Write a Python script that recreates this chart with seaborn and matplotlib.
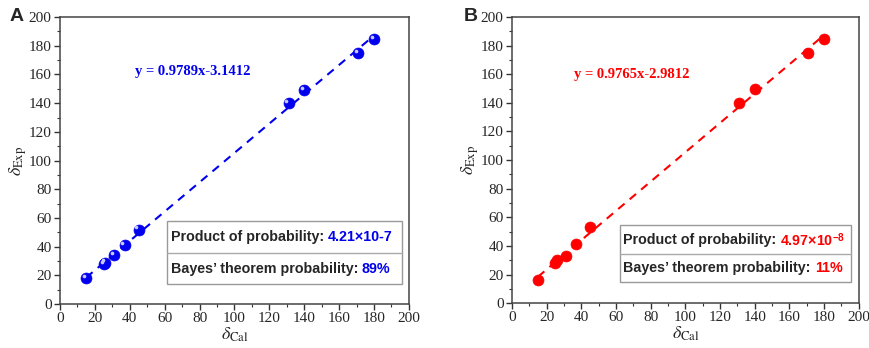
import matplotlib
matplotlib.use('Agg')
import matplotlib.pyplot as plt
import matplotlib.transforms as mtransforms
from matplotlib.patches import Rectangle
import numpy as np
import pandas as pd
import seaborn as sns

# Data
cal_a = [15, 25, 26, 31, 37, 45, 131, 140, 171, 180]
exp_a = [18, 28, 29, 34, 41, 52, 140, 149, 175, 185]
cal_b = [15, 25, 26, 31, 37, 45, 131, 140, 171, 180]
exp_b = [16, 28, 30, 33, 41, 53, 140, 150, 175, 185]

# fit reported as cal = slope*exp + icpt
slope_a, icpt_a = 0.9789, -3.1412
slope_b, icpt_b = 0.9765, -2.9812
eq_a = 'y = 0.9789x-3.1412'
eq_b = 'y = 0.9765x-2.9812'
prod_a = '4.21×10-7'
prod_b = '4.97×10$^{\\mathregular{-8}}$'
bayes_a = '89%'
bayes_b = '11%'

sns.set_style('ticks')
plt.rcParams['font.family'] = ['Liberation Serif', 'DejaVu Sans']
plt.rcParams['mathtext.fontset'] = 'stix'

fig = plt.figure(figsize=(8.7, 3.48), dpi=100)
ax_a = fig.add_axes([0.069, 0.126, 0.401, 0.825])
ax_b = fig.add_axes([0.5885, 0.129, 0.3985, 0.822])


def draw_panel(ax, xs, ys, slope, icpt, color, eq, eq_pos, prod, bayes, box, sphere):
    df = pd.DataFrame({'cal': xs, 'exp': ys})
    xl = np.array([min(xs), max(xs)])
    ax.plot(xl, (xl - icpt) / slope, color=color, lw=1.5, ls=(0, (4, 3.2)), zorder=2)
    sns.scatterplot(data=df, x='cal', y='exp', ax=ax, color=color, s=62,
                    edgecolor=color, linewidth=0.5, zorder=3, legend=False)
    if sphere:
        off = mtransforms.ScaledTranslation(-1.5 / 72, 1.5 / 72, fig.dpi_scale_trans)
        ax.scatter(df['cal'], df['exp'], s=7, color='#c8c8ff', lw=0,
                   transform=ax.transData + off, zorder=4)

    ax.set_xlim(0, 200)
    ax.set_ylim(0, 200)
    ax.set_xticks(range(0, 201, 20))
    ax.set_yticks(range(0, 201, 20))
    ax.set_xticks(range(0, 201, 10), minor=True)
    ax.set_yticks(range(0, 201, 10), minor=True)
    ax.tick_params(which='major', length=4, width=1, labelsize=11, color='#333333', pad=2)
    ax.tick_params(which='minor', length=2.5, width=0.8, color='#333333')
    for sp in ax.spines.values():
        sp.set_color('#444444')
        sp.set_linewidth(1.1)
    ax.set_xlabel(r'$\delta_{\mathrm{Cal}}$', fontsize=13, labelpad=0)
    ax.set_ylabel(r'$\delta_{\mathrm{Exp}}$', fontsize=13, labelpad=0)

    ax.text(eq_pos[0], eq_pos[1], eq, color=color, fontsize=10.5, fontweight='bold',
            family='Liberation Serif', ha='left', va='center')

    x0, y0, x1, y1, ym = box
    ax.add_patch(Rectangle((x0, y0), x1 - x0, y1 - y0, transform=ax.transAxes,
                           fill=False, ec='#999999', lw=1, zorder=5))
    ax.plot([x0, x1], [ym, ym], transform=ax.transAxes, color='#aaaaaa', lw=1, zorder=5)
    for txt, val, yc in [('Product of probability: ', prod, (ym + y1) / 2),
                         ('Bayes\u2019 theorem probability: ', bayes, (y0 + ym) / 2)]:
        t = ax.text(x0 + 0.01, yc, txt, transform=ax.transAxes, fontsize=10.3,
                    fontweight='bold', family='Liberation Sans', va='center', ha='left',
                    zorder=6)
        ax.annotate(val, xy=(1, 0.5), xycoords=t, fontsize=10.3, fontweight='bold',
                    family='Liberation Sans', color=color, va='center', ha='left',
                    zorder=6)


draw_panel(ax_a, cal_a, exp_a, slope_a, icpt_a, '#0000ee', eq_a, (43, 162),
           prod_a, bayes_a, (0.307, 0.07, 0.98, 0.289, 0.178), True)
draw_panel(ax_b, cal_b, exp_b, slope_b, icpt_b, '#ff0000', eq_b, (36, 160),
           prod_b, bayes_b, (0.311, 0.073, 0.977, 0.273, 0.171), False)

fig.text(0.011, 0.94, 'A', fontsize=14, fontweight='bold', family='Liberation Sans')
fig.text(0.533, 0.94, 'B', fontsize=14, fontweight='bold', family='Liberation Sans')

fig.savefig('out.png', dpi=100)
